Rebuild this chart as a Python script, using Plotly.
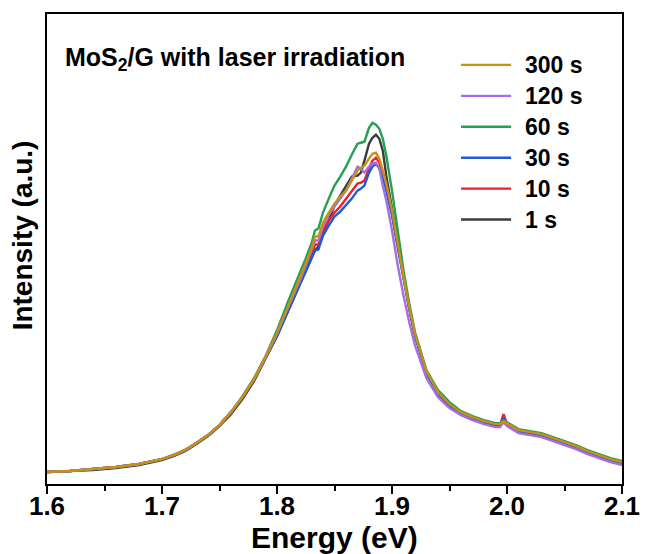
import plotly.graph_objects as go

# Photon energy grid (eV), shared by all spectra
energy = [
    1.600, 1.620, 1.640, 1.660, 1.680, 1.700, 1.710, 1.720, 1.730, 1.740,
    1.750, 1.760, 1.770, 1.780, 1.790,
    1.800, 1.810, 1.820, 1.825, 1.830, 1.833, 1.836, 1.840, 1.845, 1.850,
    1.855, 1.860, 1.865, 1.870, 1.873, 1.876, 1.880, 1.883, 1.886, 1.889,
    1.892, 1.895, 1.900, 1.905, 1.910, 1.915, 1.920, 1.930, 1.940, 1.950,
    1.960, 1.970, 1.980, 1.990, 1.994, 1.997, 2.000, 2.010, 2.020, 2.030,
    2.040, 2.050, 2.060, 2.070, 2.080, 2.090, 2.100,
]

# PL intensity (a.u.) for each irradiation time
pl_1s = [
    12, 13, 14, 16, 19, 24, 28, 33, 40, 48, 58, 70, 85, 103, 125,
    148, 174, 200, 214, 226, 234, 238, 252, 264, 279, 289, 299, 308, 309, 312,
    324, 341, 347, 350, 346,
    334, 309, 276, 241, 208, 177, 149, 112, 91, 79,
    71, 66, 62, 59, 59, 64, 60, 53, 51, 49, 45, 41, 37, 32, 28, 24, 21,
]
pl_10s = [
    12, 13, 15, 17, 20, 25, 29, 34, 41, 49, 59, 72, 87, 105, 127,
    149, 176, 202, 216, 230, 240, 240, 254, 264, 272, 278, 286, 294, 301, 302,
    304, 316, 324, 327, 322,
    310, 297, 271, 238, 206, 176, 149, 112, 91, 79,
    71, 66, 62, 59, 59, 70, 60, 53, 51, 49, 45, 41, 37, 32, 28, 24, 21,
]
pl_30s = [
    12, 13, 15, 17, 20, 25, 29, 34, 41, 49, 59, 72, 87, 105, 127,
    148, 175, 201, 214, 226, 234, 235, 249, 259, 268, 273, 279, 286, 294, 296,
    299, 312, 318, 321, 316,
    308, 294, 269, 237, 205, 175, 148, 111, 90, 78,
    71, 66, 62, 59, 59, 66, 60, 53, 51, 49, 45, 41, 37, 32, 28, 24, 21,
]
pl_60s = [
    12, 13, 15, 17, 20, 25, 29, 34, 41, 49, 59, 72, 88, 106, 128,
    154, 184, 211, 226, 241, 254, 256, 272, 286, 299, 308, 318, 330, 341, 342,
    343, 357, 362, 360, 356,
    346, 329, 294, 252, 214, 181, 152, 114, 94, 82,
    73, 68, 64, 61, 61, 64, 62, 55, 53, 51, 47, 43, 39, 34, 30, 26, 23,
]
pl_120s = [
    12, 13, 15, 17, 20, 25, 29, 34, 41, 49, 59, 72, 87, 105, 127,
    151, 178, 204, 219, 234, 244, 244, 258, 270, 278, 286, 294, 306, 318, 316,
    312, 318, 321, 322, 316,
    299, 284, 254, 219, 189, 162, 139, 106, 87, 76,
    69, 64, 60, 57, 57, 62, 58, 51, 49, 47, 43, 39, 35, 30, 26, 22, 19,
]
pl_300s = [
    12, 13, 15, 17, 20, 25, 29, 34, 41, 49, 59, 72, 87, 105, 127,
    151, 179, 206, 221, 236, 248, 248, 262, 272, 281, 288, 294, 304, 314, 317,
    319, 326, 331, 332, 326,
    314, 301, 274, 240, 208, 177, 150, 113, 92, 80,
    72, 67, 63, 60, 60, 63, 61, 54, 52, 50, 46, 42, 38, 33, 29, 25, 22,
]

series_names = ["1 s", "10 s", "30 s", "60 s", "120 s", "300 s"]
series_values = [pl_1s, pl_10s, pl_30s, pl_60s, pl_120s, pl_300s]
series_colors = ["#3C3C3C", "#F01E28", "#1E5ADC", "#23A050", "#A56EE6", "#C89114"]

x_ticks = [1.6, 1.7, 1.8, 1.9, 2.0, 2.1]

FONT = "Liberation Sans, Arial, sans-serif"

fig = go.Figure()
for name, vals, col in zip(series_names, series_values, series_colors):
    fig.add_trace(go.Scatter(
        x=energy, y=vals, name=name, mode="lines",
        line=dict(color=col, width=2.4), showlegend=False,
    ))

annotations = [
    dict(text="MoS<sub>2</sub>/G with laser irradiation",
         x=0.027, y=0.904, xref="paper", yref="paper",
         xanchor="left", yanchor="middle", showarrow=False,
         font=dict(family=FONT, size=25, weight="bold", color="black")),
    dict(text="Intensity (a.u.)", textangle=-90,
         x=-0.0427, y=0.53, xref="paper", yref="paper",
         xanchor="center", yanchor="middle", showarrow=False,
         font=dict(family=FONT, size=28, weight="bold", color="black")),
    dict(text="Energy (eV)",
         x=0.5, y=-0.1146, xref="paper", yref="paper",
         xanchor="center", yanchor="middle", showarrow=False,
         font=dict(family=FONT, size=30, weight="bold", color="black")),
]

# Legend drawn as line samples and labels, newest irradiation time on top
shapes = []
for row, idx in enumerate(reversed(range(len(series_names)))):
    y_row = 0.8917 - row * 0.0658
    shapes.append(dict(type="line", xref="paper", yref="paper",
                       x0=0.7201, x1=0.8072, y0=y_row, y1=y_row,
                       line=dict(color=series_colors[idx], width=2.4)))
    annotations.append(dict(text=series_names[idx], x=0.8276, y=y_row,
                            xref="paper", yref="paper",
                            xanchor="left", yanchor="middle", showarrow=False,
                            font=dict(family=FONT, size=23, weight="bold",
                                      color="black")))

fig.update_layout(
    width=652, height=554,
    margin=dict(l=47, r=19, t=13, b=70),
    paper_bgcolor="white", plot_bgcolor="white",
    font=dict(family=FONT, color="black"),
    showlegend=False,
    xaxis=dict(
        range=[1.6, 2.1], tickvals=x_ticks, tickformat=".1f",
        ticks="outside", ticklen=8, tickwidth=2, tickcolor="black",
        ticklabelstandoff=-10,
        minor=dict(dtick=0.05, ticks="outside", ticklen=5, tickwidth=2, tickcolor="black"),
        showline=True, linecolor="black", linewidth=2, mirror=True,
        showgrid=False, zeroline=False,
        tickfont=dict(family=FONT, size=26, weight="bold", color="black"),
    ),
    yaxis=dict(
        range=[0, 471], showticklabels=False, ticks="",
        showline=True, linecolor="black", linewidth=2, mirror=True,
        showgrid=False, zeroline=False,
    ),
    annotations=annotations,
    shapes=shapes,
)

fig.write_html("out.html")
